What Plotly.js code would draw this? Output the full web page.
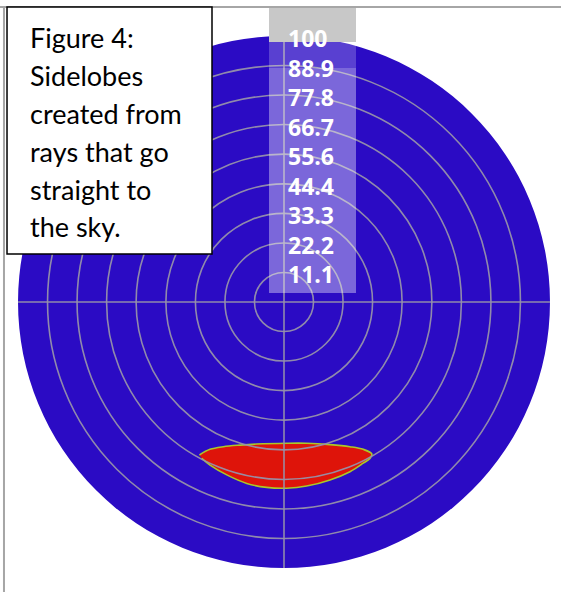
<!DOCTYPE html>
<html>
<head>
<meta charset="utf-8">
<script src="https://cdn.plot.ly/plotly-3.0.1.min.js"></script>
<style>html,body{margin:0;padding:0;background:#fff;}#chart{width:561px;height:592px;}</style>
</head>
<body>
<div id="chart"></div>
<script>
// Radial ring values and their labels
const ringValues = [11.1, 22.2, 33.3, 44.4, 55.6, 66.7, 77.8, 88.9, 100];
const ringLabels = ["11.1", "22.2", "33.3", "44.4", "55.6", "66.7", "77.8", "88.9", "100"];
// Outer radius of the disc
const discRadius = 100;
// Sidelobe region boundary (x, y in radial units)
const lobeX = [-31.8, -27.8, -22.8, -16.5, -10.3, 1.0, 8.5, 17.3, 24.8, 29.8, 33.0,
               32.3, 29.8, 24.8, 17.3, 8.5, 1.0, -6.5, -14.0, -21.5, -27.8, -30.9];
const lobeY = [-57.5, -55.4, -54.4, -53.8, -53.4, -53.1, -53.1, -53.6, -54.4, -55.4, -57.1,
               -58.8, -60.6, -63.8, -66.9, -69.2, -70.0, -69.7, -68.2, -65.0, -61.3, -58.8];
// Caption lines
const captionLines = ["Figure 4:", "Sidelobes", "created from", "rays that go", "straight to", "the sky."];

const BLUE = "rgb(43,11,196)";
const GRID = "rgba(150,145,170,0.95)";

const shapes = [];
// blue disc
shapes.push({type: "circle", xref: "x", yref: "y", x0: -discRadius, x1: discRadius,
  y0: -discRadius, y1: discRadius, fillcolor: BLUE, line: {width: 0}, layer: "below"});
// rings
ringValues.forEach(r => {
  if (r < discRadius) {
    shapes.push({type: "circle", xref: "x", yref: "y", x0: -r, x1: r, y0: -r, y1: r,
      line: {color: GRID, width: 1.6}, layer: "above"});
  }
});
// crosshair
shapes.push({type: "line", xref: "x", yref: "y", x0: -discRadius, x1: discRadius, y0: 0, y1: 0,
  line: {color: GRID, width: 1.6}, layer: "above"});
shapes.push({type: "line", xref: "x", yref: "y", x0: 0, x1: 0, y0: -discRadius, y1: discRadius,
  line: {color: GRID, width: 1.6}, layer: "above"});
// label column
shapes.push({type: "rect", xref: "x", yref: "y", x0: -5.64, x1: 27.07, y0: 97.7, y1: 110.9,
  fillcolor: "rgb(200,200,200)", line: {width: 0}, layer: "above"});
shapes.push({type: "rect", xref: "x", yref: "y", x0: -5.64, x1: 27.07, y0: 88.0, y1: 97.7,
  fillcolor: "rgba(255,255,255,0.22)", line: {width: 0}, layer: "above"});
shapes.push({type: "rect", xref: "x", yref: "y", x0: -5.64, x1: 27.07, y0: 3.4, y1: 88.0,
  fillcolor: "rgba(255,255,255,0.38)", line: {width: 0}, layer: "above"});
// page frame lines
shapes.push({type: "line", xref: "paper", yref: "paper", x0: 0, x1: 1, y0: 0.9882, y1: 0.9882,
  line: {color: "#a6a6a6", width: 2}, layer: "above"});
shapes.push({type: "line", xref: "paper", yref: "paper", x0: 0.0071, x1: 0.0071, y0: 0, y1: 0.9882,
  line: {color: "#a6a6a6", width: 2}, layer: "above"});
// caption box
shapes.push({type: "rect", xref: "paper", yref: "paper", x0: 0.0125, x1: 0.3779, y0: 0.5710, y1: 0.9882,
  fillcolor: "#ffffff", line: {color: "#000000", width: 1.5}, layer: "above"});

const annotations = [];
ringValues.forEach((r, i) => {
  annotations.push({xref: "x", yref: "y", x: 0.9, y: r, xanchor: "left", yanchor: "middle",
    text: "<b>" + ringLabels[i] + "</b>", showarrow: false, yshift: -2,
    font: {family: "'Open Sans', sans-serif", size: 23, color: "#ffffff"}});
});
const capTop = 1 - 38 / 592, capStep = 37.8 / 592;
captionLines.forEach((t, i) => {
  annotations.push({xref: "paper", yref: "paper", x: 0.0499, y: capTop - i * capStep,
    xanchor: "left", yanchor: "middle", text: t, showarrow: false,
    font: {family: "Lato, 'Open Sans', sans-serif", size: 27, color: "#000000"}});
});

const data = [{
  type: "scatter", mode: "lines", x: lobeX, y: lobeY, fill: "toself",
  fillcolor: "rgb(222,20,10)", line: {color: "rgb(170,200,40)", width: 1.6, shape: "spline"},
  hoverinfo: "skip", showlegend: false
}];

const layout = {
  width: 561, height: 592,
  margin: {l: 0, r: 0, t: 0, b: 0},
  paper_bgcolor: "#ffffff", plot_bgcolor: "#ffffff",
  xaxis: {range: [-106.77, 104.14], visible: false, fixedrange: true},
  yaxis: {range: [-109.02, 113.53], visible: false, fixedrange: true},
  shapes: shapes, annotations: annotations, showlegend: false
};

Plotly.newPlot("chart", data, layout, {displayModeBar: false, staticPlot: true});
</script>
</body>
</html>
